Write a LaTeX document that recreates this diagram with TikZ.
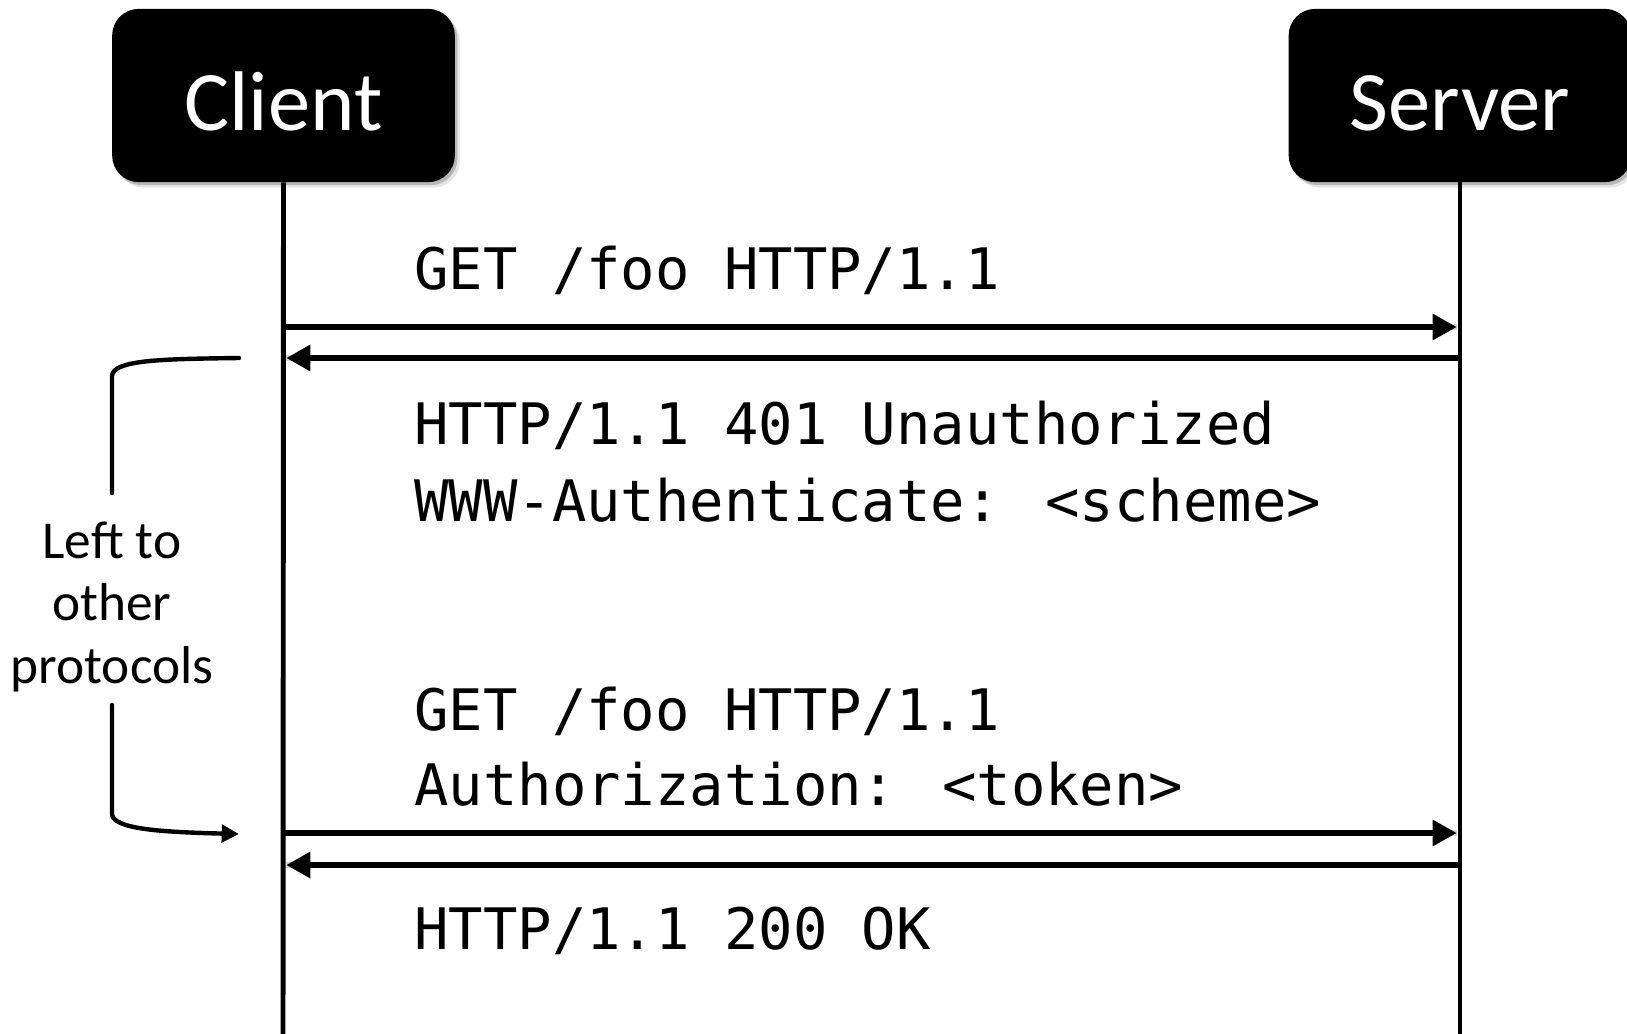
\documentclass[tikz,border=0pt]{standalone}
\usepackage{fontspec}
\setmainfont{Carlito}
\newfontfamily\monof{DejaVu Sans Mono}
\usetikzlibrary{arrows.meta}

\begin{document}
\begin{tikzpicture}[x=0.75pt, y=-0.75pt,
  actor/.style={fill=black, text=white, rounded corners=20pt,
    minimum width=257pt, minimum height=130pt, inner sep=0pt,
    font=\fontsize{63.5pt}{70pt}\selectfont, text height=52pt, text depth=0pt},
  actorshade/.style={fill=#1, rounded corners=20pt,
    minimum width=257pt, minimum height=130pt, inner sep=0pt},
  lifeline/.style={line width=3.7pt},
  msg/.style={line width=4pt, -{Triangle[length=18pt,width=19pt]}, shorten >=2.5pt},
  msgshade/.style={line width=4pt, draw=black!16, shorten >=2.5pt},
  msgtext/.style={anchor=base west, inner sep=0pt,
    font=\monof\fontsize{42.9pt}{52pt}\selectfont},
  bracket/.style={line width=3.3pt, line cap=round},
  sidenote/.style={align=center, inner sep=0pt,
    font=\fontsize{40pt}{47pt}\selectfont}
]
\useasboundingbox (0,0) rectangle (1627,1033);
\clip (0,0) rectangle (1627,1033);

% soft shadows of the two actor boxes
\node[actorshade=black!10] (clientshadeA) at (288.5,101) {};
\node[actorshade=black!28] (clientshadeB) at (286,98.5) {};
\node[actorshade=black!10] (servershadeA) at (1465,101) {};
\node[actorshade=black!28] (servershadeB) at (1462.5,98.5) {};

% actor boxes
\node[actor] (client) at (283.5,95.5) {Client};
\node[actor] (server) at (1460,95.5) {Server};

% lifelines
\coordinate (cend) at (283,1045);
\coordinate (send) at (1460,1045);
\draw[lifeline] (client.south) -- (cend);
\draw[lifeline] (server.south) -- (send);

% message anchor points on the lifelines
\coordinate (c1) at (283,327);  \coordinate (s1) at (1460,327);
\coordinate (c2) at (283,358);  \coordinate (s2) at (1460,358);
\coordinate (c3) at (283,833);  \coordinate (s3) at (1460,833);
\coordinate (c4) at (283,865);  \coordinate (s4) at (1460,865);

% faint shadows under the messages
\begin{scope}[shift={(1.5,3.5)}]
  \draw[msgshade] (c1) -- (s1);
  \draw[msgshade] (s2) -- (c2);
  \draw[msgshade] (c3) -- (s3);
  \draw[msgshade] (s4) -- (c4);
\end{scope}

% messages
\draw[msg] (c1) -- (s1);
\draw[msg] (s2) -- (c2);
\draw[msg] (c3) -- (s3);
\draw[msg] (s4) -- (c4);

% message texts
\node[msgtext] (req1) at (414,289) {GET /foo HTTP/1.1};
\node[msgtext] (resp1a) at (414,444) {HTTP/1.1 401 Unauthorized};
\node[msgtext] (resp1b) at (414,521) {WWW-Authenticate: <scheme>};
\node[msgtext] (req2a) at (414,730) {GET /foo HTTP/1.1};
\node[msgtext] (req2b) at (414,805) {Authorization: <token>};
\node[msgtext] (resp2) at (414,949) {HTTP/1.1 200 OK};

% side bracket with its note
\coordinate (brtop) at (239,358);
\coordinate (brbot) at (239,834);
\coordinate (gaptop) at (112,493);
\coordinate (gapbot) at (112,705);
\draw[bracket] (brtop) .. controls (160,359) and (113,360) .. (112,376) -- (gaptop);
\draw[bracket, -{Triangle[length=13pt,width=13pt]}] (gapbot) -- (112,814)
  .. controls (113,829) and (160,832) .. (brbot);
\node[sidenote] (note) at (112,607) {Left to\\other\\protocols};
\end{tikzpicture}
\end{document}
